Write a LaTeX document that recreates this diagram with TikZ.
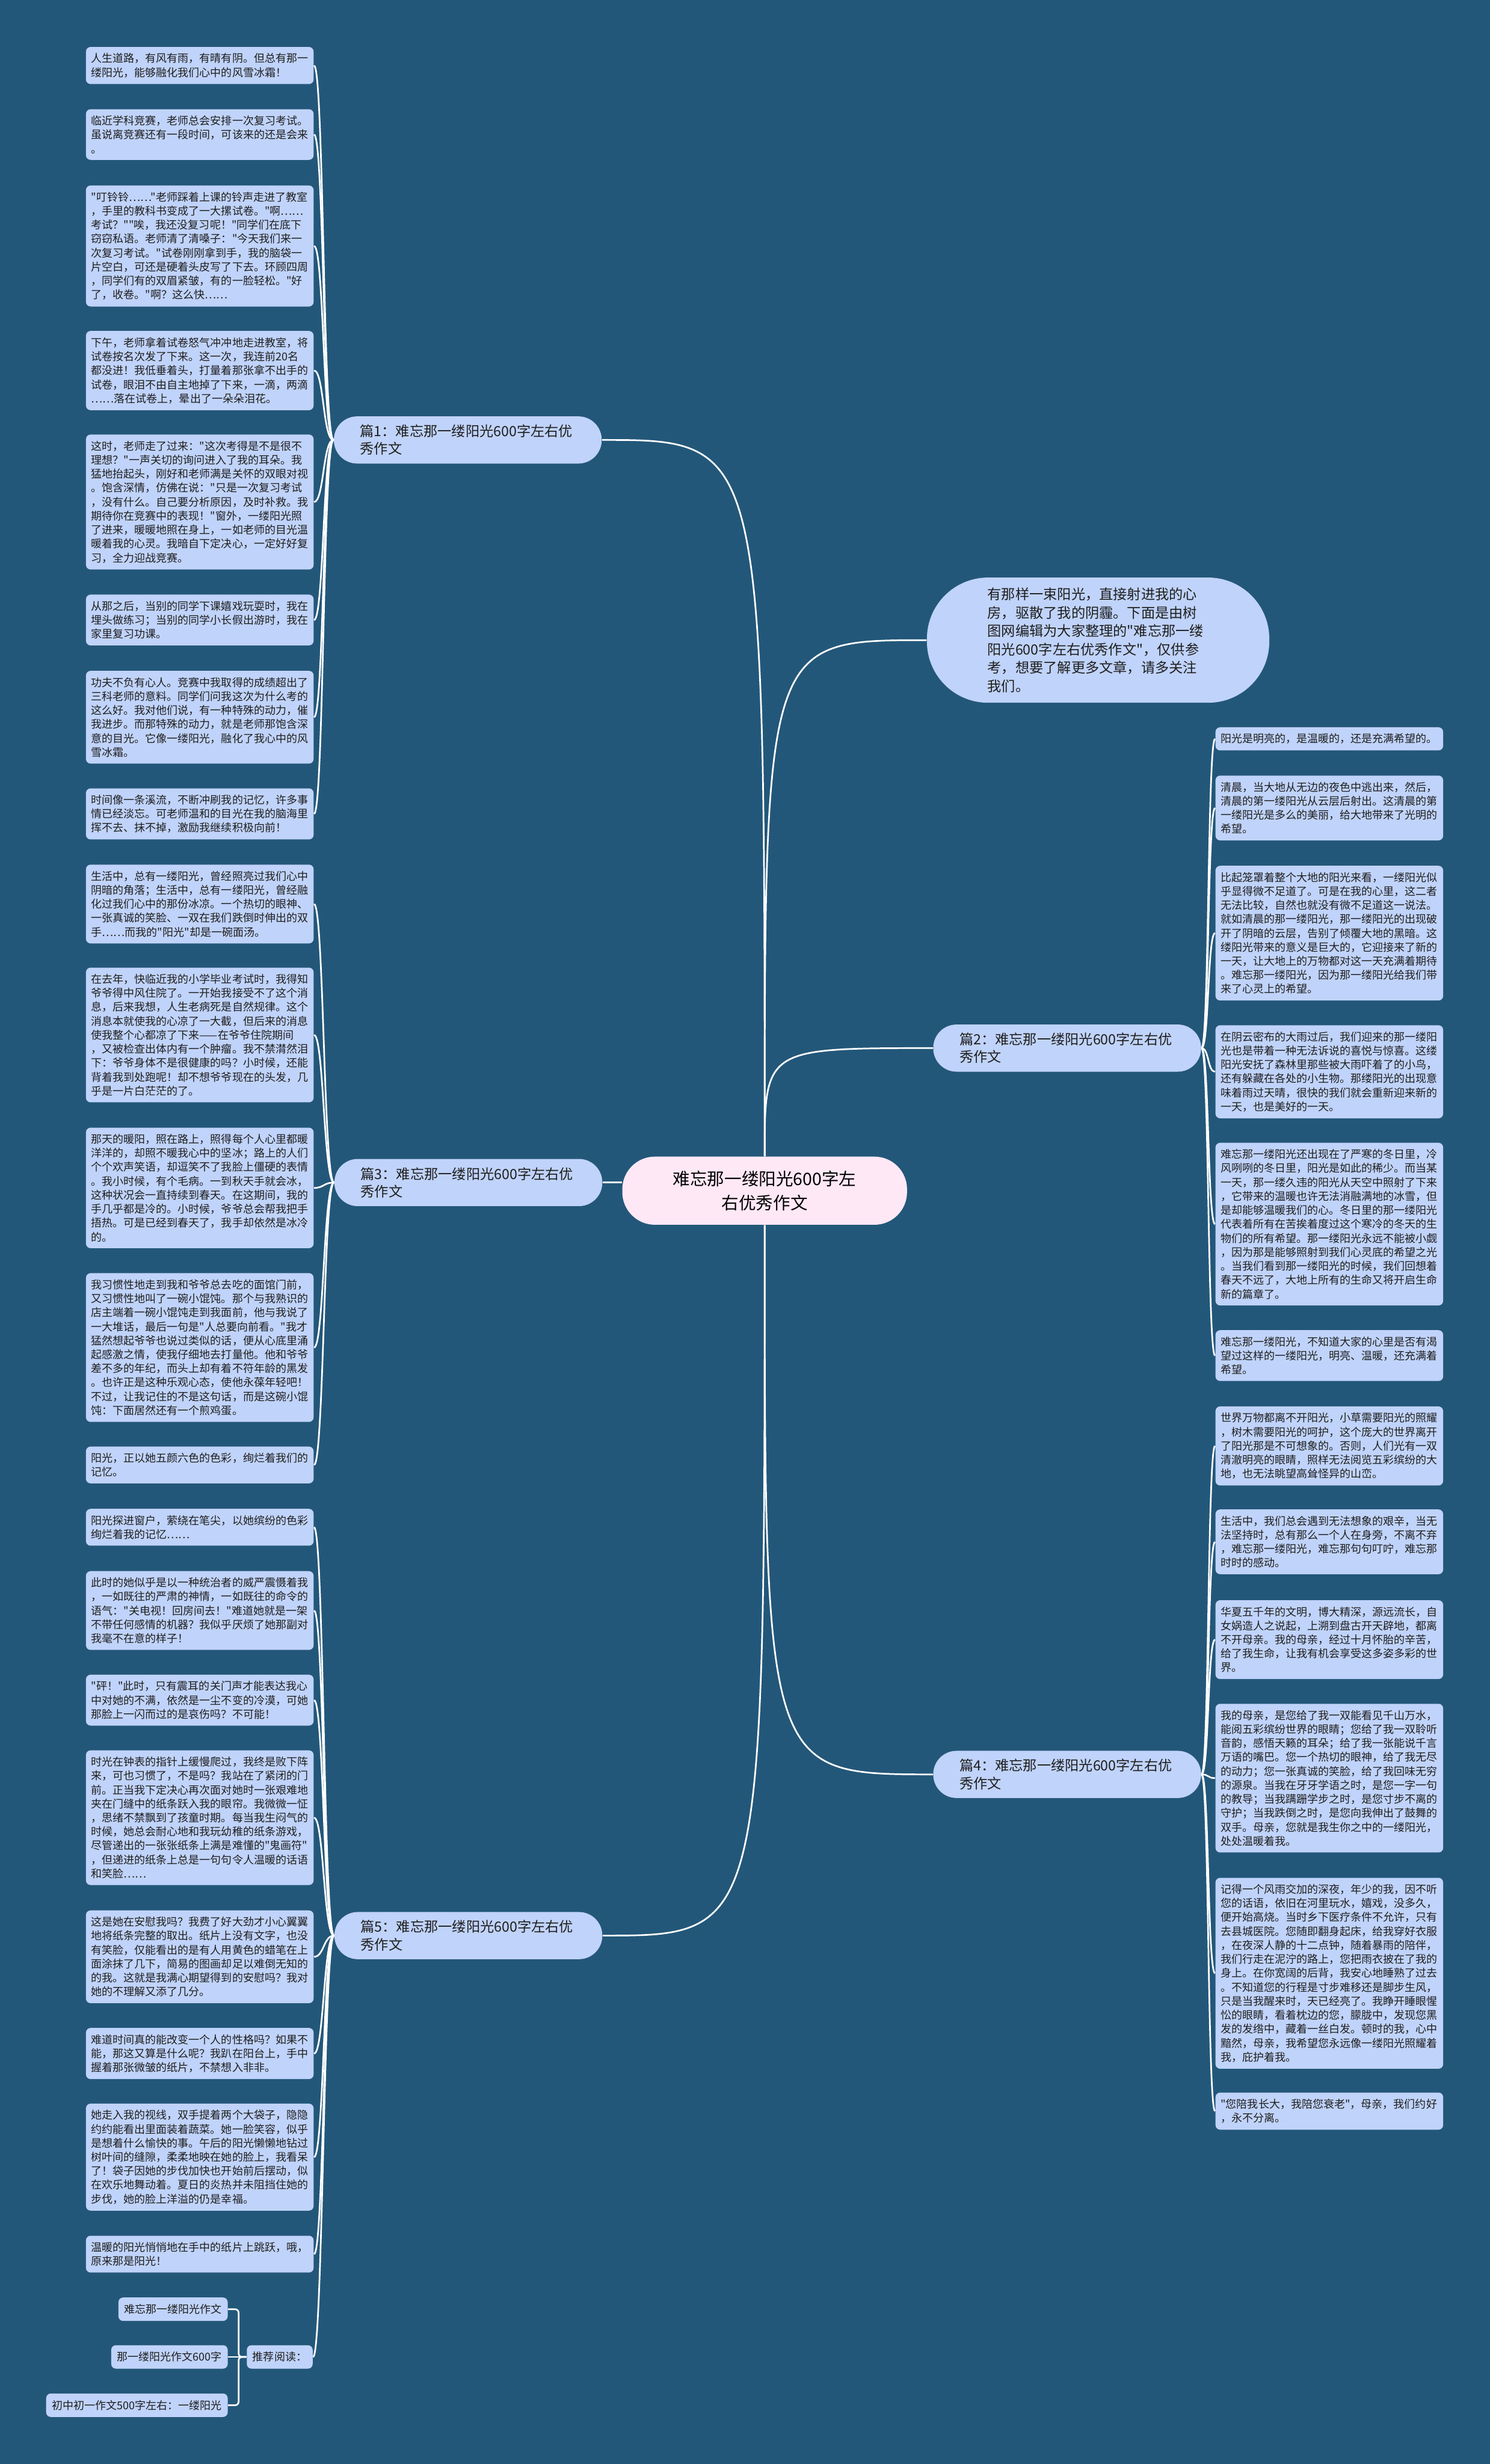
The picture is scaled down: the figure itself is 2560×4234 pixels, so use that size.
\documentclass[tikz,border=0pt]{standalone}
\usepackage{fontspec}
\newfontfamily\cjk{Noto Sans CJK SC}
\setlength{\parindent}{0pt}
\definecolor{fondo}{RGB}{35,87,121}
\definecolor{azzurro}{RGB}{192,211,250}
\definecolor{rosa}{RGB}{255,232,246}
\definecolor{testo}{RGB}{30,30,30}
\begin{document}
\cjk
\begin{tikzpicture}[x=0.01cm, y=-0.01cm,
    every node/.style={text=testo},
    leaf/.style={fill=azzurro, rounded corners=0.08cm, anchor=north west,
      text width=3.73cm, inner xsep=0.09cm, inner ysep=0.11cm, align=left,
      font=\cjk\fontsize{5.3pt}{6.83pt}\selectfont},
    tag/.style={fill=azzurro, rounded corners=0.08cm, anchor=east,
      inner xsep=0.1cm, inner ysep=0.115cm, font=\cjk\fontsize{5.3pt}{6.83pt}\selectfont},
    branch/.style={fill=azzurro, rounded corners=0.4cm, anchor=west,
      text width=3.7cm, inner xsep=0.45cm, minimum height=0.81cm, align=left,
      font=\cjk\fontsize{6.83pt}{8.6pt}\selectfont},
    link/.style={draw=white, line width=0.8pt}]
    \useasboundingbox (0,0) rectangle (2560,4234);
    \fill[fondo] (0,0) rectangle (2560,4234);

    % Nodo centrale
    \node (root) at (1314,2046) [fill=rosa, rounded corners=0.56cm, minimum width=4.89cm,
      minimum height=1.17cm, align=center, text=black,
      font=\cjk\fontsize{8.4pt}{11.9pt}\selectfont] {难忘那一缕阳光600字左\\右优秀作文};
    \node (intro) at (1887,1100) [fill=azzurro, rounded corners=1.05cm, text width=3.8cm,
      inner xsep=1.04cm, minimum height=2.15cm, align=left,
      font=\cjk\fontsize{6.83pt}{9pt}\selectfont]
      {有那样一束阳光，直接射进我的心\\房，驱散了我的阴霾。下面是由树\\图网编辑为大家整理的"难忘那一缕\\阳光600字左右优秀作文"，仅供参\\考，想要了解更多文章，请多关注\\我们。};

    % Rami
    \node (b1) at (573,756) [branch] {篇1：难忘那一缕阳光600字左右优\\秀作文};
    \node (b3) at (574,2032) [branch] {篇3：难忘那一缕阳光600字左右优\\秀作文};
    \node (b5) at (574,3326) [branch] {篇5：难忘那一缕阳光600字左右优\\秀作文};
    \node (b2) at (1603,1801) [branch] {篇2：难忘那一缕阳光600字左右优\\秀作文};
    \node (b4) at (1603,3049) [branch] {篇4：难忘那一缕阳光600字左右优\\秀作文};

    % Foglie, 篇1
    \node (l1) at (147,80) [leaf] {人生道路，有风有雨，有晴有阴。但总有那一\\缕阳光，能够融化我们心中的风雪冰霜！};
    \node (l2) at (147,187) [leaf] {临近学科竞赛，老师总会安排一次复习考试。\\虽说离竞赛还有一段时间，可该来的还是会来\\。};
    \node (l3) at (147,318) [leaf] {"叮铃铃……"老师踩着上课的铃声走进了教室\\，手里的教科书变成了一大摞试卷。"啊……\\考试？""唉，我还没复习呢！"同学们在底下\\窃窃私语。老师清了清嗓子："今天我们来一\\次复习考试。"试卷刚刚拿到手，我的脑袋一\\片空白，可还是硬着头皮写了下去。环顾四周\\，同学们有的双眉紧皱，有的一脸轻松。"好\\了，收卷。"啊？这么快……};
    \node (l4) at (147,568) [leaf] {下午，老师拿着试卷怒气冲冲地走进教室，将\\试卷按名次发了下来。这一次，我连前20名\\都没进！我低垂着头，打量着那张拿不出手的\\试卷，眼泪不由自主地掉了下来，一滴，两滴\\……落在试卷上，晕出了一朵朵泪花。};
    \node (l5) at (147,746) [leaf] {这时，老师走了过来："这次考得是不是很不\\理想？"一声关切的询问进入了我的耳朵。我\\猛地抬起头，刚好和老师满是关怀的双眼对视\\。饱含深情，仿佛在说："只是一次复习考试\\，没有什么。自己要分析原因，及时补救。我\\期待你在竞赛中的表现！"窗外，一缕阳光照\\了进来，暖暖地照在身上，一如老师的目光温\\暖着我的心灵。我暗自下定决心，一定好好复\\习，全力迎战竞赛。};
    \node (l6) at (147,1021) [leaf] {从那之后，当别的同学下课嬉戏玩耍时，我在\\埋头做练习；当别的同学小长假出游时，我在\\家里复习功课。};
    \node (l7) at (147,1152) [leaf] {功夫不负有心人。竞赛中我取得的成绩超出了\\三科老师的意料。同学们问我这次为什么考的\\这么好。我对他们说，有一种特殊的动力，催\\我进步。而那特殊的动力，就是老师那饱含深\\意的目光。它像一缕阳光，融化了我心中的风\\雪冰霜。};
    \node (l8) at (147,1354) [leaf] {时间像一条溪流，不断冲刷我的记忆，许多事\\情已经淡忘。可老师温和的目光在我的脑海里\\挥不去、抹不掉，激励我继续积极向前！};

    % Foglie, 篇3
    \node (l9) at (147,1485) [leaf] {生活中，总有一缕阳光，曾经照亮过我们心中\\阴暗的角落；生活中，总有一缕阳光，曾经融\\化过我们心中的那份冰凉。一个热切的眼神、\\一张真诚的笑脸、一双在我们跌倒时伸出的双\\手……而我的"阳光"却是一碗面汤。};
    \node (l10) at (147,1662) [leaf] {在去年，快临近我的小学毕业考试时，我得知\\爷爷得中风住院了。一开始我接受不了这个消\\息，后来我想，人生老病死是自然规律。这个\\消息本就使我的心凉了一大截，但后来的消息\\使我整个心都凉了下来——在爷爷住院期间\\，又被检查出体内有一个肿瘤。我不禁潸然泪\\下：爷爷身体不是很健康的吗？小时候，还能\\背着我到处跑呢！却不想爷爷现在的头发，几\\乎是一片白茫茫的了。};
    \node (l11) at (147,1937) [leaf] {那天的暖阳，照在路上，照得每个人心里都暖\\洋洋的，却照不暖我心中的坚冰；路上的人们\\个个欢声笑语，却逗笑不了我脸上僵硬的表情\\。我小时候，有个毛病。一到秋天手就会冰，\\这种状况会一直持续到春天。在这期间，我的\\手几乎都是冷的。小时候，爷爷总会帮我把手\\捂热。可是已经到春天了，我手却依然是冰冷\\的。};
    \node (l12) at (147,2187) [leaf] {我习惯性地走到我和爷爷总去吃的面馆门前，\\又习惯性地叫了一碗小馄饨。那个与我熟识的\\店主端着一碗小馄饨走到我面前，他与我说了\\一大堆话，最后一句是"人总要向前看。"我才\\猛然想起爷爷也说过类似的话，便从心底里涌\\起感激之情，使我仔细地去打量他。他和爷爷\\差不多的年纪，而头上却有着不符年龄的黑发\\。也许正是这种乐观心态，使他永葆年轻吧！\\不过，让我记住的不是这句话，而是这碗小馄\\饨：下面居然还有一个煎鸡蛋。};
    \node (l13) at (147,2485) [leaf] {阳光，正以她五颜六色的色彩，绚烂着我们的\\记忆。};

    % Foglie, 篇5
    \node (l14) at (147,2592) [leaf] {阳光探进窗户，萦绕在笔尖，以她缤纷的色彩\\绚烂着我的记忆……};
    \node (l15) at (147,2699) [leaf] {此时的她似乎是以一种统治者的威严震慑着我\\，一如既往的严肃的神情，一如既往的命令的\\语气："关电视！回房间去！"难道她就是一架\\不带任何感情的机器？我似乎厌烦了她那副对\\我毫不在意的样子！};
    \node (l16) at (147,2877) [leaf] {"砰！"此时，只有震耳的关门声才能表达我心\\中对她的不满，依然是一尘不变的冷漠，可她\\那脸上一闪而过的是哀伤吗？不可能！};
    \node (l17) at (147,3007) [leaf] {时光在钟表的指针上缓慢爬过，我终是败下阵\\来，可也习惯了，不是吗？我站在了紧闭的门\\前。正当我下定决心再次面对她时一张艰难地\\夹在门缝中的纸条跃入我的眼帘。我微微一怔\\，思绪不禁飘到了孩童时期。每当我生闷气的\\时候，她总会耐心地和我玩幼稚的纸条游戏，\\尽管递出的一张张纸条上满是难懂的"鬼画符"\\，但递进的纸条上总是一句句令人温暖的话语\\和笑脸……};
    \node (l18) at (147,3282) [leaf] {这是她在安慰我吗？我费了好大劲才小心翼翼\\地将纸条完整的取出。纸片上没有文字，也没\\有笑脸，仅能看出的是有人用黄色的蜡笔在上\\面涂抹了几下，简易的图画却足以难倒无知的\\的我。这就是我满心期望得到的安慰吗？我对\\她的不理解又添了几分。};
    \node (l19) at (147,3484) [leaf] {难道时间真的能改变一个人的性格吗？如果不\\能，那这又算是什么呢？我趴在阳台上，手中\\握着那张微皱的纸片，不禁想入非非。};
    \node (l20) at (147,3614) [leaf] {她走入我的视线，双手提着两个大袋子，隐隐\\约约能看出里面装着蔬菜。她一脸笑容，似乎\\是想着什么愉快的事。午后的阳光懒懒地钻过\\树叶间的缝隙，柔柔地映在她的脸上，我看呆\\了！袋子因她的步伐加快也开始前后摆动，似\\在欢乐地舞动着。夏日的炎热并未阻挡住她的\\步伐，她的脸上洋溢的仍是幸福。};
    \node (l21) at (147,3841) [leaf] {温暖的阳光悄悄地在手中的纸片上跳跃，哦，\\原来那是阳光！};
    \node (rec) at (538,4050) [tag] {推荐阅读：};
    \node (rec1) at (392,3968) [tag] {难忘那一缕阳光作文};
    \node (rec2) at (392,4050) [tag] {那一缕阳光作文600字};
    \node (rec3) at (392,4133) [tag] {初中初一作文500字左右：一缕阳光};
    \coordinate (recjoint) at (410,4050);

    % Foglie, 篇2
    \node (r1) at (2088,1249) [leaf] {阳光是明亮的，是温暖的，还是充满希望的。};
    \node (r2) at (2088,1332) [leaf] {清晨，当大地从无边的夜色中逃出来，然后，\\清晨的第一缕阳光从云层后射出。这清晨的第\\一缕阳光是多么的美丽，给大地带来了光明的\\希望。};
    \node (r3) at (2088,1487) [leaf] {比起笼罩着整个大地的阳光来看，一缕阳光似\\乎显得微不足道了。可是在我的心里，这二者\\无法比较，自然也就没有微不足道这一说法。\\就如清晨的那一缕阳光，那一缕阳光的出现破\\开了阴暗的云层，告别了倾覆大地的黑暗。这\\缕阳光带来的意义是巨大的，它迎接来了新的\\一天，让大地上的万物都对这一天充满着期待\\。难忘那一缕阳光，因为那一缕阳光给我们带\\来了心灵上的希望。};
    \node (r4) at (2088,1761) [leaf] {在阴云密布的大雨过后，我们迎来的那一缕阳\\光也是带着一种无法诉说的喜悦与惊喜。这缕\\阳光安抚了森林里那些被大雨吓着了的小鸟，\\还有躲藏在各处的小生物。那缕阳光的出现意\\味着雨过天晴，很快的我们就会重新迎来新的\\一天，也是美好的一天。};
    \node (r5) at (2088,1963) [leaf] {难忘那一缕阳光还出现在了严寒的冬日里，冷\\风咧咧的冬日里，阳光是如此的稀少。而当某\\一天，那一缕久违的阳光从天空中照射了下来\\，它带来的温暖也许无法消融满地的冰雪，但\\是却能够温暖我们的心。冬日里的那一缕阳光\\代表着所有在苦挨着度过这个寒冷的冬天的生\\物们的所有希望。那一缕阳光永远不能被小觑\\，因为那是能够照射到我们心灵底的希望之光\\。当我们看到那一缕阳光的时候，我们回想着\\春天不远了，大地上所有的生命又将开启生命\\新的篇章了。};
    \node (r6) at (2088,2285) [leaf] {难忘那一缕阳光，不知道大家的心里是否有渴\\望过这样的一缕阳光，明亮、温暖，还充满着\\希望。};

    % Foglie, 篇4
    \node (r7) at (2088,2416) [leaf] {世界万物都离不开阳光，小草需要阳光的照耀\\，树木需要阳光的呵护，这个庞大的世界离开\\了阳光那是不可想象的。否则，人们光有一双\\清澈明亮的眼睛，照样无法阅览五彩缤纷的大\\地，也无法眺望高耸怪异的山峦。};
    \node (r8) at (2088,2593) [leaf] {生活中，我们总会遇到无法想象的艰辛，当无\\法坚持时，总有那么一个人在身旁，不离不弃\\，难忘那一缕阳光，难忘那句句叮咛，难忘那\\时时的感动。};
    \node (r9) at (2088,2749) [leaf] {华夏五千年的文明，博大精深，源远流长，自\\女娲造人之说起，上溯到盘古开天辟地，都离\\不开母亲。我的母亲，经过十月怀胎的辛苦，\\给了我生命，让我有机会享受这多姿多彩的世\\界。};
    \node (r10) at (2088,2927) [leaf] {我的母亲，是您给了我一双能看见千山万水，\\能阅五彩缤纷世界的眼睛；您给了我一双聆听\\音韵，感悟天籁的耳朵；给了我一张能说千言\\万语的嘴巴。您一个热切的眼神，给了我无尽\\的动力；您一张真诚的笑脸，给了我回味无穷\\的源泉。当我在牙牙学语之时，是您一字一句\\的教导；当我蹒跚学步之时，是您寸步不离的\\守护；当我跌倒之时，是您向我伸出了鼓舞的\\双手。母亲，您就是我生你之中的一缕阳光，\\处处温暖着我。};
    \node (r11) at (2088,3226) [leaf] {记得一个风雨交加的深夜，年少的我，因不听\\您的话语，依旧在河里玩水，嬉戏，没多久，\\便开始高烧。当时乡下医疗条件不允许，只有\\去县城医院。您随即翻身起床，给我穿好衣服\\，在夜深人静的十二点钟，随着暴雨的陪伴，\\我们行走在泥泞的路上，您把雨衣披在了我的\\身上。在你宽阔的后背，我安心地睡熟了过去\\。不知道您的行程是寸步难移还是脚步生风，\\只是当我醒来时，天已经亮了。我睁开睡眼惺\\忪的眼睛，看着枕边的您，朦胧中，发现您黑\\发的发绺中，藏着一丝白发。顿时的我，心中\\黯然，母亲，我希望您永远像一缕阳光照耀着\\我，庇护着我。};
    \node (r12) at (2088,3595) [leaf] {"您陪我长大，我陪您衰老"，母亲，我们约好\\，永不分离。};

    % Collegamenti dal centro
    \draw[link] (root.north) .. controls (root.north |- b1.east) .. (b1.east);
    \draw[link] (root.north) .. controls (root.north |- intro.west) .. (intro.west);
    \draw[link] (root.north) .. controls (root.north |- b2.west) .. (b2.west);
    \draw[link] (b3.east) -- (b3.east -| root.west);
    \draw[link] (root.south) .. controls (root.south |- b4.west) .. (b4.west);
    \draw[link] (root.south) .. controls (root.south |- b5.east) .. (b5.east);

    % Collegamenti 篇1
    \draw[link] (b1.west) .. controls +(-18,0) and +(17,0) .. (l1.east);
    \draw[link] (b1.west) .. controls +(-18,0) and +(17,0) .. (l2.east);
    \draw[link] (b1.west) .. controls +(-18,0) and +(17,0) .. (l3.east);
    \draw[link] (b1.west) .. controls +(-18,0) and +(17,0) .. (l4.east);
    \draw[link] (b1.west) .. controls +(-18,0) and +(17,0) .. (l5.east);
    \draw[link] (b1.west) .. controls +(-18,0) and +(17,0) .. (l6.east);
    \draw[link] (b1.west) .. controls +(-18,0) and +(17,0) .. (l7.east);
    \draw[link] (b1.west) .. controls +(-18,0) and +(17,0) .. (l8.east);

    % Collegamenti 篇3
    \draw[link] (b3.west) .. controls +(-18,0) and +(17,0) .. (l9.east);
    \draw[link] (b3.west) .. controls +(-18,0) and +(17,0) .. (l10.east);
    \draw[link] (b3.west) .. controls +(-18,0) and +(17,0) .. (l11.east);
    \draw[link] (b3.west) .. controls +(-18,0) and +(17,0) .. (l12.east);
    \draw[link] (b3.west) .. controls +(-18,0) and +(17,0) .. (l13.east);

    % Collegamenti 篇5
    \draw[link] (b5.west) .. controls +(-18,0) and +(17,0) .. (l14.east);
    \draw[link] (b5.west) .. controls +(-18,0) and +(17,0) .. (l15.east);
    \draw[link] (b5.west) .. controls +(-18,0) and +(17,0) .. (l16.east);
    \draw[link] (b5.west) .. controls +(-18,0) and +(17,0) .. (l17.east);
    \draw[link] (b5.west) .. controls +(-18,0) and +(17,0) .. (l18.east);
    \draw[link] (b5.west) .. controls +(-18,0) and +(17,0) .. (l19.east);
    \draw[link] (b5.west) .. controls +(-18,0) and +(17,0) .. (l20.east);
    \draw[link] (b5.west) .. controls +(-18,0) and +(17,0) .. (l21.east);
    \draw[link] (b5.west) .. controls +(-18,0) and +(17,0) .. (rec.east);
    \draw[link, rounded corners=0.06cm] (rec.west) -- (recjoint) |- (rec1.east);
    \draw[link] (rec.west) -- (rec2.east);
    \draw[link, rounded corners=0.06cm] (rec.west) -- (recjoint) |- (rec3.east);

    % Collegamenti 篇2
    \draw[link] (b2.east) .. controls +(13,0) and +(-13,0) .. (r1.west);
    \draw[link] (b2.east) .. controls +(13,0) and +(-13,0) .. (r2.west);
    \draw[link] (b2.east) .. controls +(13,0) and +(-13,0) .. (r3.west);
    \draw[link] (b2.east) .. controls +(13,0) and +(-13,0) .. (r4.west);
    \draw[link] (b2.east) .. controls +(13,0) and +(-13,0) .. (r5.west);
    \draw[link] (b2.east) .. controls +(13,0) and +(-13,0) .. (r6.west);

    % Collegamenti 篇4
    \draw[link] (b4.east) .. controls +(13,0) and +(-13,0) .. (r7.west);
    \draw[link] (b4.east) .. controls +(13,0) and +(-13,0) .. (r8.west);
    \draw[link] (b4.east) .. controls +(13,0) and +(-13,0) .. (r9.west);
    \draw[link] (b4.east) .. controls +(13,0) and +(-13,0) .. (r10.west);
    \draw[link] (b4.east) .. controls +(13,0) and +(-13,0) .. (r11.west);
    \draw[link] (b4.east) .. controls +(13,0) and +(-13,0) .. (r12.west);
\end{tikzpicture}
\end{document}
